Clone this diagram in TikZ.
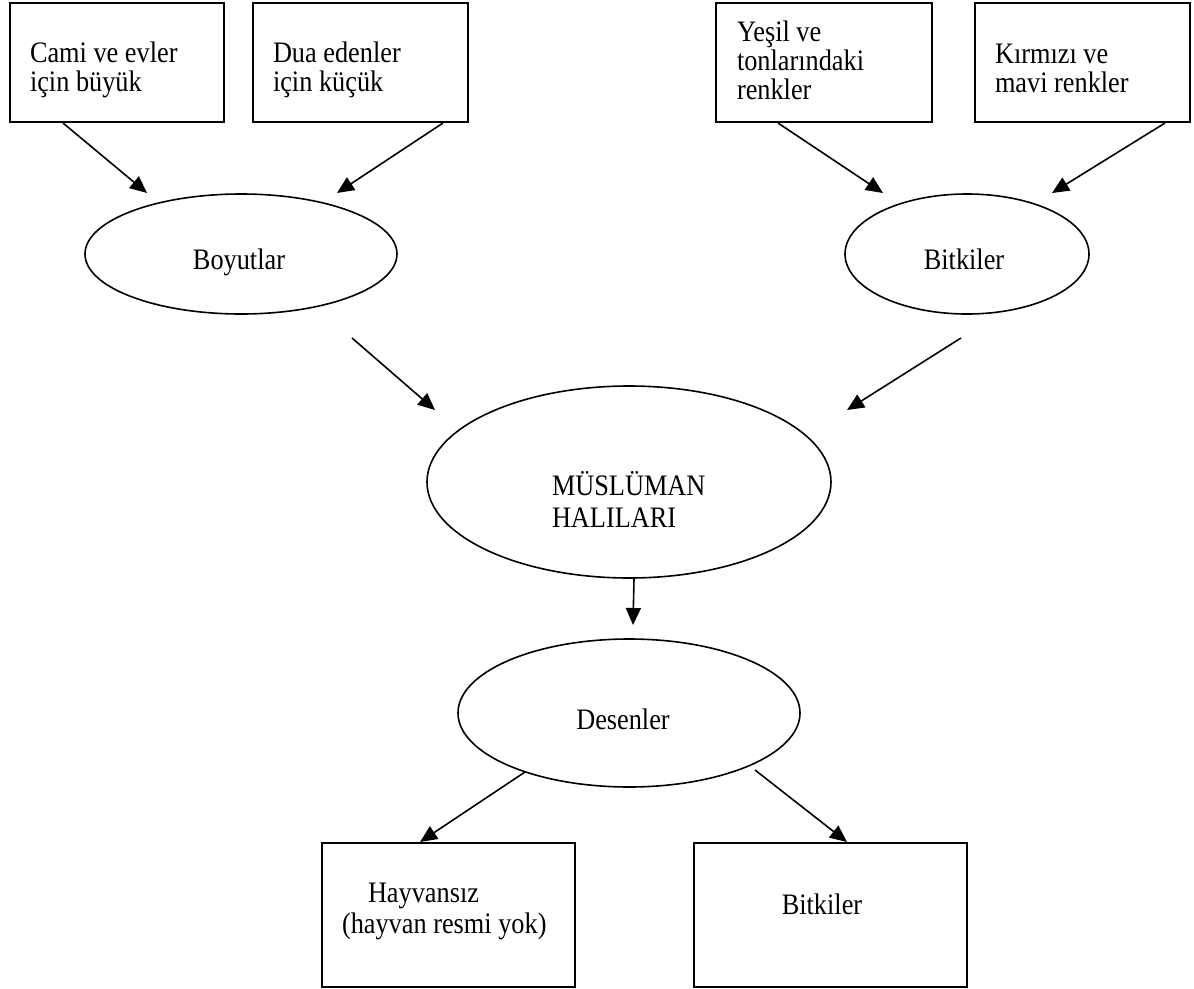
\documentclass[tikz,border=0pt]{standalone}
\usepackage{graphicx}
\usepackage{fontspec}
\setmainfont{Liberation Serif}
\usetikzlibrary{arrows.meta,shapes.geometric}
\newcommand\lbl[1]{\scalebox{1}[1.13]{\begin{tabular}[t]{@{}l@{}}#1\end{tabular}}}
\begin{document}
\begin{tikzpicture}[x=1pt,y=-1pt,
  every node/.style={font=\fontsize{26.3}{25.7}\selectfont, inner sep=0pt, outer sep=0pt},
  boxnode/.style={draw, line width=1.7pt, rectangle},
  ellnode/.style={draw, line width=1.6pt, ellipse},
  arr/.style={-{Triangle[length=17pt,width=15pt]}, line width=1.6pt},
  txt/.style={anchor=base west},
  ctxt/.style={anchor=base}]
\useasboundingbox (0,0) rectangle (1194,988);
% boxes
\node[boxnode, minimum width=214pt, minimum height=119pt] (b1) at (117,62.5) {};
\node[boxnode, minimum width=215pt, minimum height=119pt] (b2) at (360.5,62.5) {};
\node[boxnode, minimum width=216pt, minimum height=119pt] (b3) at (824,62.5) {};
\node[boxnode, minimum width=215pt, minimum height=119pt] (b4) at (1082.5,62.5) {};
\node[boxnode, minimum width=253pt, minimum height=144pt] (b5) at (448.5,915) {};
\node[boxnode, minimum width=273pt, minimum height=144pt] (b6) at (830.5,915) {};
% ellipses
\node[ellnode, minimum width=312pt, minimum height=120pt] (e1) at (241,254) {};
\node[ellnode, minimum width=244pt, minimum height=120pt] (e2) at (967,254) {};
\node[ellnode, minimum width=404pt, minimum height=192pt] (em) at (629,482) {};
\node[ellnode, minimum width=342pt, minimum height=148pt] (ed) at (629,713) {};
% texts
\node[txt] (t1) at (30,62) {\lbl{Cami ve evler\\için büyük}};
\node[txt] (t2) at (273,62) {\lbl{Dua edenler\\için küçük}};
\node[txt] (t3) at (737,41) {\lbl{Yeşil ve\\tonlarındaki\\renkler}};
\node[txt] (t4) at (995,63) {\lbl{Kırmızı ve\\mavi renkler}};
\node[ctxt] (t5) at (239,269) {\lbl{Boyutlar}};
\node[ctxt] (t6) at (964,269) {\lbl{Bitkiler}};
\node[txt] (t7) at (552,495) {\lbl{MÜSLÜMAN\\[2.8pt]HALILARI}};
\node[ctxt] (t8) at (623,729) {\lbl{Desenler}};
\node[txt] (t9) at (342,902) {\lbl{\hspace{26pt}Hayvansız\\[1.7pt](hayvan resmi yok)}};
\node[ctxt] (t10) at (822,914) {\lbl{Bitkiler}};
% connector ends
\coordinate (a1s) at (63,123);   \coordinate (a1e) at (147,193);
\coordinate (a2s) at (443,123);  \coordinate (a2e) at (337,193);
\coordinate (a3s) at (778,123);  \coordinate (a3e) at (883,193);
\coordinate (a4s) at (1165,123); \coordinate (a4e) at (1052,193);
\coordinate (a5s) at (352,338);  \coordinate (a5e) at (435,410);
\coordinate (a6s) at (961,338);  \coordinate (a6e) at (847,410);
\coordinate (a7s) at (634,579);  \coordinate (a7e) at (633,625);
\coordinate (a8s) at (525,772);  \coordinate (a8e) at (420,842);
\coordinate (a9s) at (755,770);  \coordinate (a9e) at (847,842);
% connectors
\draw[arr] (a1s) -- (a1e);
\draw[arr] (a2s) -- (a2e);
\draw[arr] (a3s) -- (a3e);
\draw[arr] (a4s) -- (a4e);
\draw[arr] (a5s) -- (a5e);
\draw[arr] (a6s) -- (a6e);
\draw[arr] (a7s) -- (a7e);
\draw[arr] (a8s) -- (a8e);
\draw[arr] (a9s) -- (a9e);
\end{tikzpicture}
\end{document}
